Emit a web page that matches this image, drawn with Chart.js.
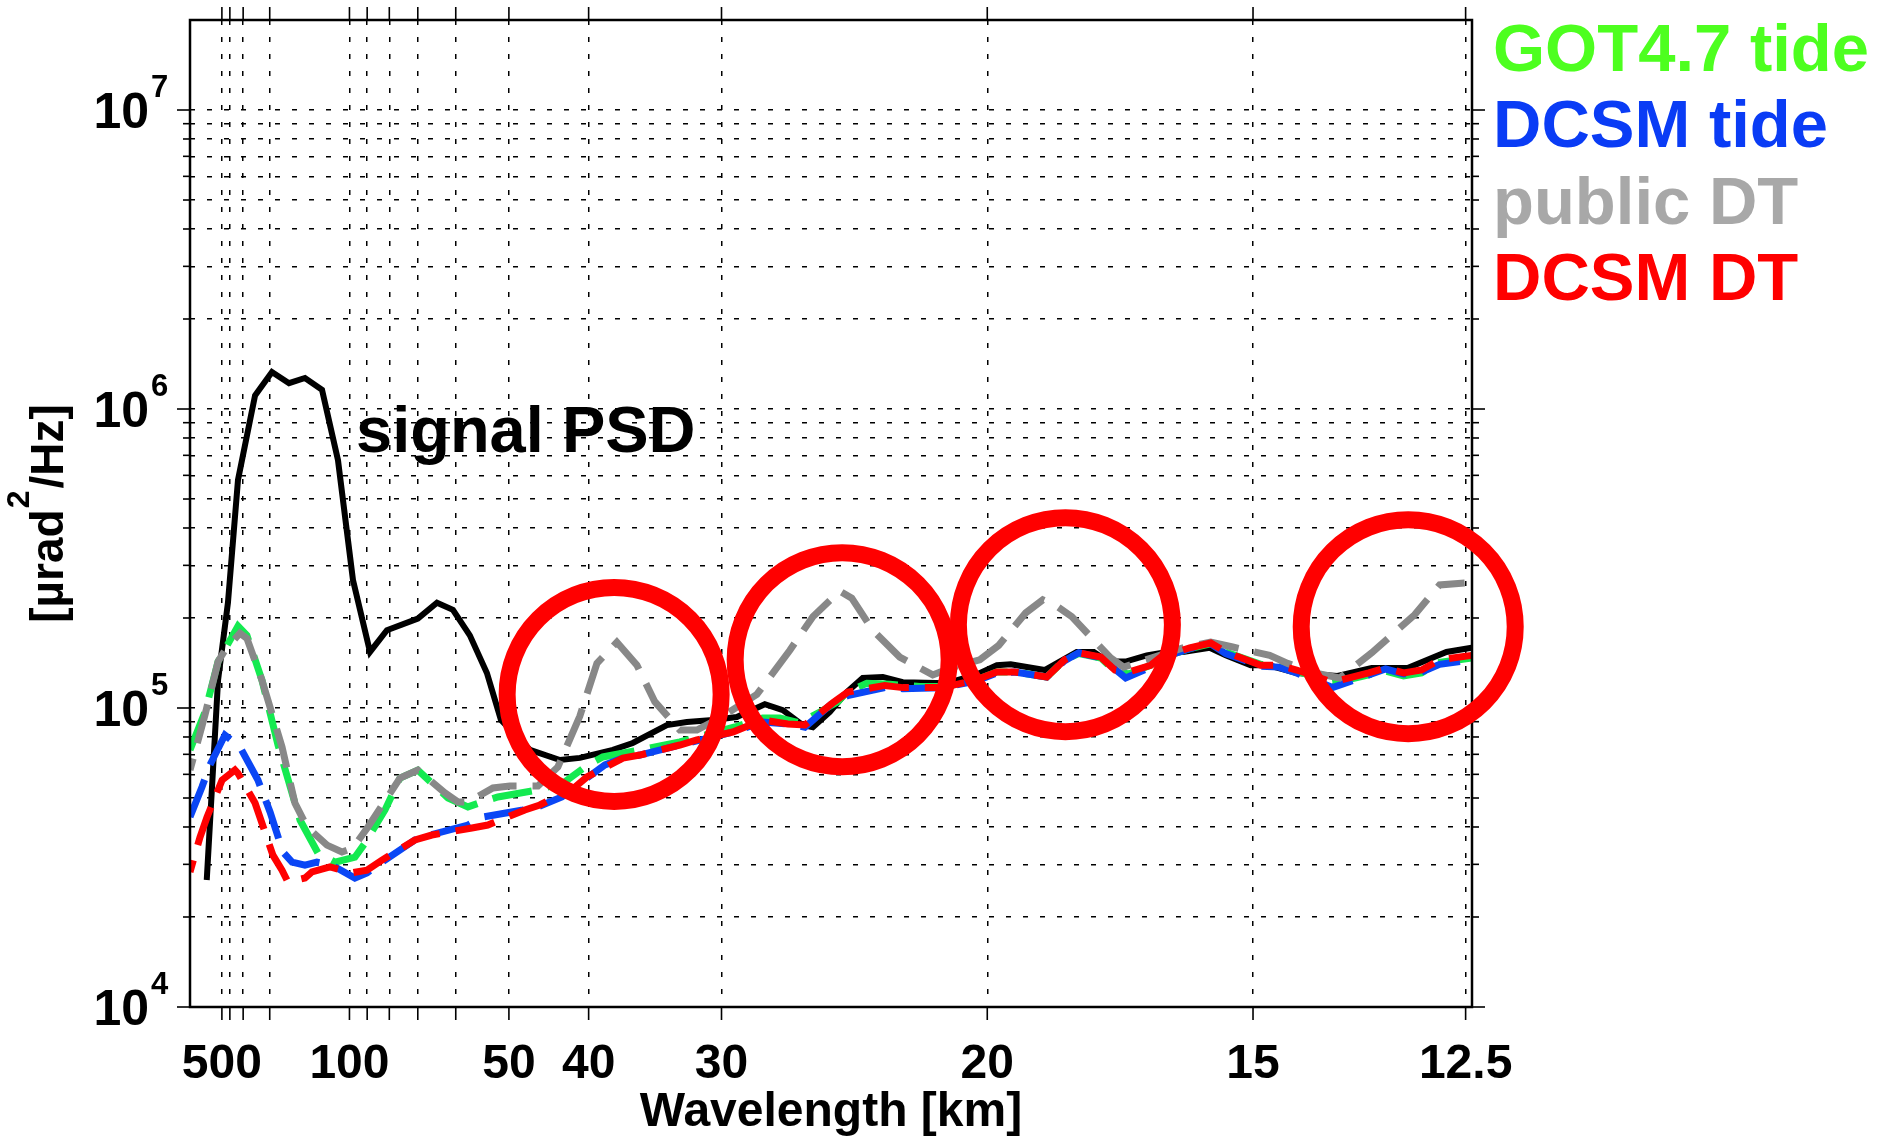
<!DOCTYPE html>
<html>
<head>
<meta charset="utf-8">
<title>Along-track PSD</title>
<script src="https://cdn.jsdelivr.net/npm/chart.js@4.4.0/dist/chart.umd.min.js"></script>
<style>
  html, body { margin: 0; padding: 0; background: #ffffff; }
  canvas { display: block; }
</style>
</head>
<body>
<canvas id="psdChart" width="1894" height="1139"></canvas>
<script>
// x values are wavenumbers (cycles/km), y values are PSD in urad^2/Hz

const signalK = [0.00105, 0.00176, 0.00238, 0.00301, 0.00408, 0.00514, 0.00621, 0.00721, 0.00828, 0.00928,
    0.01022, 0.01129, 0.01235, 0.01429, 0.01549, 0.01649, 0.01755, 0.01862, 0.0195, 0.02132,
    0.0232, 0.02445, 0.02652, 0.02777, 0.02991, 0.03116, 0.03279, 0.03429, 0.03605, 0.03718,
    0.03843, 0.03906, 0.04013, 0.04119, 0.04219, 0.04345, 0.0447, 0.04746, 0.04928, 0.0506,
    0.05147, 0.0536, 0.05561, 0.05668, 0.05756, 0.05868, 0.06, 0.061, 0.06226, 0.06395,
    0.06495, 0.06652, 0.06765, 0.0694, 0.07197, 0.07411, 0.07636, 0.0788, 0.08038];
const signalPSD = [2.66e4, 1.24e5, 2.25e5, 5.79e5, 1.11e6, 1.33e6, 1.22e6, 1.27e6, 1.16e6, 6.75e5,
    2.68e5, 1.54e5, 1.82e5, 1.99e5, 2.25e5, 2.13e5, 1.75e5, 1.31e5, 9.12e4, 7.24e4,
    6.70e4, 6.81e4, 7.24e4, 7.64e4, 8.77e4, 8.98e4, 9.12e4, 9.33e4, 1.03e5, 9.84e4,
    8.77e4, 8.63e4, 9.70e4, 1.13e5, 1.26e5, 1.27e5, 1.22e5, 1.21e5, 1.29e5, 1.39e5,
    1.40e5, 1.34e5, 1.54e5, 1.54e5, 1.43e5, 1.43e5, 1.50e5, 1.53e5, 1.54e5, 1.59e5,
    1.50e5, 1.39e5, 1.39e5, 1.31e5, 1.28e5, 1.36e5, 1.36e5, 1.54e5, 1.59e5];

const got47K = [0, 0.00094, 0.00176, 0.00301, 0.00357, 0.00451, 0.00552, 0.00658, 0.0069, 0.00803,
    0.00909, 0.01034, 0.01097, 0.01223, 0.01317, 0.01429, 0.01618, 0.01743, 0.01831, 0.01931,
    0.02182, 0.02351, 0.02495, 0.02589, 0.02821, 0.03072, 0.03279, 0.03417, 0.03592, 0.03699,
    0.03824, 0.0395, 0.04063, 0.04119, 0.04245, 0.04389, 0.04577, 0.04746, 0.04928, 0.0506,
    0.05172, 0.05373, 0.05486, 0.05574, 0.05712, 0.058, 0.05887, 0.06025, 0.06088, 0.0627,
    0.06401, 0.06495, 0.06715, 0.06828, 0.0694, 0.07166, 0.07392, 0.07498, 0.07611, 0.07724,
    0.07837, 0.08038];
const got47Tide = [7.24e4, 9.70e4, 1.43e5, 1.88e5, 1.75e5, 1.24e5, 7.52e4, 4.81e4, 4.22e4, 3.27e4,
    3.05e4, 3.17e4, 3.53e4, 4.56e4, 5.83e4, 6.20e4, 5.00e4, 4.67e4, 4.85e4, 5.04e4,
    5.32e4, 5.66e4, 6.45e4, 6.86e4, 7.24e4, 7.70e4, 8.25e4, 8.64e4, 9.26e4, 9.26e4,
    8.91e4, 9.70e4, 1.05e5, 1.13e5, 1.21e5, 1.20e5, 1.18e5, 1.18e5, 1.24e5, 1.32e5,
    1.32e5, 1.27e5, 1.45e5, 1.52e5, 1.47e5, 1.33e5, 1.30e5, 1.39e5, 1.47e5, 1.58e5,
    1.64e5, 1.54e5, 1.40e5, 1.38e5, 1.33e5, 1.21e5, 1.29e5, 1.33e5, 1.28e5, 1.31e5,
    1.42e5, 1.47e5];

const dcsmTideK = [0, 0.00075, 0.00125, 0.00219, 0.00313, 0.00426, 0.00502, 0.00583, 0.0064, 0.00721,
    0.00796, 0.0089, 0.01034, 0.0111, 0.01204, 0.01411, 0.01505, 0.01743, 0.01837, 0.02088,
    0.02182, 0.02332, 0.02489, 0.02602, 0.02715, 0.02821, 0.03072, 0.03179, 0.03404, 0.03592,
    0.03749, 0.03856, 0.04031, 0.04125, 0.04357, 0.0447, 0.04721, 0.04928, 0.0506, 0.05172,
    0.05373, 0.05486, 0.05574, 0.05712, 0.058, 0.05868, 0.06025, 0.06088, 0.0627, 0.06401,
    0.06495, 0.06715, 0.06828, 0.0694, 0.07166, 0.07392, 0.07498, 0.07611, 0.07724, 0.07837,
    0.08038];
const dcsmTide = [4.32e4, 5.44e4, 6.45e4, 8.12e4, 7.41e4, 5.74e4, 4.49e4, 3.30e4, 3.05e4, 2.98e4,
    3.05e4, 2.98e4, 2.70e4, 2.81e4, 3.05e4, 3.62e4, 3.76e4, 4.06e4, 4.32e4, 4.56e4,
    4.67e4, 5.04e4, 5.83e4, 6.45e4, 6.80e4, 6.96e4, 7.52e4, 7.76e4, 8.31e4, 8.98e4,
    8.84e4, 8.63e4, 1.04e5, 1.10e5, 1.17e5, 1.16e5, 1.17e5, 1.23e5, 1.31e5, 1.32e5,
    1.27e5, 1.44e5, 1.53e5, 1.47e5, 1.35e5, 1.26e5, 1.37e5, 1.47e5, 1.58e5, 1.64e5,
    1.52e5, 1.38e5, 1.37e5, 1.31e5, 1.17e5, 1.29e5, 1.35e5, 1.30e5, 1.32e5, 1.40e5,
    1.45e5];

const publicK = [0, 0.00094, 0.00176, 0.00219, 0.00313, 0.00357, 0.00451, 0.00577, 0.00658, 0.00734,
    0.00859, 0.00953, 0.01022, 0.01116, 0.01317, 0.01429, 0.01599, 0.0168, 0.01743, 0.019,
    0.02006, 0.02182, 0.02307, 0.02445, 0.02552, 0.02677, 0.02803, 0.02915, 0.03072, 0.03179,
    0.03323, 0.03555, 0.03762, 0.03906, 0.04075, 0.0415, 0.04282, 0.04451, 0.04658, 0.04784,
    0.04953, 0.05072, 0.05241, 0.05348, 0.05442, 0.0553, 0.05774, 0.05856, 0.06082, 0.06245,
    0.06401, 0.06539, 0.06771, 0.06884, 0.07053, 0.0721, 0.07411, 0.0768, 0.07837, 0.07994];
const publicDT = [6.20e4, 9.48e4, 1.43e5, 1.56e5, 1.78e5, 1.71e5, 1.24e5, 7.41e4, 4.81e4, 4.00e4,
    3.48e4, 3.30e4, 3.40e4, 4.00e4, 5.83e4, 6.20e4, 5.20e4, 4.85e4, 4.85e4, 5.40e4,
    5.48e4, 5.48e4, 6.35e4, 9.40e4, 1.41e5, 1.66e5, 1.39e5, 1.05e5, 8.44e4, 8.44e4,
    9.26e4, 1.11e5, 1.56e5, 2.02e5, 2.46e5, 2.33e5, 1.82e5, 1.48e5, 1.29e5, 1.37e5,
    1.45e5, 1.62e5, 2.08e5, 2.30e5, 2.18e5, 2.02e5, 1.47e5, 1.37e5, 1.50e5, 1.60e5,
    1.66e5, 1.60e5, 1.50e5, 1.41e5, 1.31e5, 1.26e5, 1.53e5, 2.05e5, 2.58e5, 2.62e5];

const dcsmDtK = [0, 0.00063, 0.00107, 0.00201, 0.00282, 0.00301, 0.00408, 0.0052, 0.00577, 0.00614,
    0.00721, 0.00765, 0.00878, 0.01016, 0.0111, 0.01204, 0.01411, 0.01517, 0.01768, 0.01868,
    0.021, 0.02194, 0.02414, 0.02489, 0.02715, 0.02821, 0.03072, 0.03179, 0.03404, 0.03592,
    0.03749, 0.03856, 0.04031, 0.04125, 0.04357, 0.0447, 0.04721, 0.04928, 0.0506, 0.05172,
    0.05373, 0.05486, 0.05574, 0.05712, 0.058, 0.05887, 0.06025, 0.06088, 0.0627, 0.06401,
    0.06495, 0.06715, 0.06828, 0.0694, 0.07166, 0.07392, 0.07498, 0.07611, 0.07724, 0.07837,
    0.08038];
const dcsmDT = [2.83e4, 3.70e4, 4.32e4, 5.74e4, 6.20e4, 6.05e4, 4.81e4, 3.22e4, 2.87e4, 2.62e4,
    2.70e4, 2.83e4, 2.94e4, 2.81e4, 2.87e4, 3.10e4, 3.62e4, 3.76e4, 3.97e4, 4.06e4,
    4.56e4, 4.74e4, 5.44e4, 5.88e4, 6.80e4, 6.96e4, 7.52e4, 7.82e4, 8.31e4, 9.12e4,
    8.84e4, 8.77e4, 1.04e5, 1.13e5, 1.19e5, 1.17e5, 1.17e5, 1.24e5, 1.32e5, 1.32e5,
    1.27e5, 1.45e5, 1.53e5, 1.48e5, 1.34e5, 1.32e5, 1.39e5, 1.48e5, 1.59e5, 1.65e5,
    1.54e5, 1.39e5, 1.39e5, 1.34e5, 1.22e5, 1.31e5, 1.36e5, 1.31e5, 1.34e5, 1.45e5,
    1.50e5];

// axis ticks
const gridWavelengths = [500, 400, 300, 200, 100, 90, 80, 70, 60, 50, 40, 30, 20, 15, 12.5];
const labelWavelengths = [500, 100, 50, 40, 30, 20, 15, 12.5];
const decades = [1e4, 1e5, 1e6, 1e7];
const decadeExponents = ['4', '5', '6', '7'];

// highlighted regions (circle centres)
const circleK = [0.0266, 0.0409, 0.0549, 0.0764];
const circlePSD = [1.11e5, 1.45e5, 1.90e5, 1.87e5];

const legendNames = ['GOT4.7 tide', 'DCSM tide', 'public DT', 'DCSM DT'];
const legendColors = ['#4dff1f', '#0a3cf5', '#a8a8a8', '#ff0000'];

const FONT = '"Liberation Sans", Arial, Helvetica, sans-serif';

function toPoints(ks, vals) {
    return ks.map((k, i) => ({ x: k, y: vals[i] }));
}

// 1..9 x 10^n grid values for the log axis
const yGridValues = [];
for (let d = 0; d < decades.length - 1; d++) {
    for (let m = 1; m <= 9; m++) {
        yGridValues.push(m * decades[d]);
    }
}
yGridValues.push(decades[decades.length - 1]);

function line(ctx, x1, y1, x2, y2) {
    ctx.beginPath();
    ctx.moveTo(x1, y1);
    ctx.lineTo(x2, y2);
    ctx.stroke();
}

const decorations = {
    id: 'decorations',
    afterDatasetsDraw(chart) {
        const { ctx, chartArea, scales } = chart;
        const { left, right, top, bottom } = chartArea;
        const x = scales.x;
        const y = scales.y;

        ctx.save();
        ctx.strokeStyle = '#000';
        ctx.lineWidth = 2.5;
        ctx.setLineDash([]);
        ctx.strokeRect(left, top, right - left, bottom - top);

        ctx.lineWidth = 1.6;
        gridWavelengths.forEach(w => {
            const px = x.getPixelForValue(1 / w);
            line(ctx, px, top, px, top - 13);
            line(ctx, px, bottom, px, bottom + 13);
        });
        yGridValues.forEach(v => {
            const py = y.getPixelForValue(v);
            const len = decades.includes(v) ? 13 : 7;
            line(ctx, left - len, py, left, py);
            line(ctx, right, py, right + len, py);
        });

        // red circles
        ctx.strokeStyle = '#ff0000';
        ctx.lineWidth = 17;
        circleK.forEach((k, i) => {
            ctx.beginPath();
            ctx.arc(x.getPixelForValue(k), y.getPixelForValue(circlePSD[i]), 107, 0, Math.PI * 2);
            ctx.stroke();
        });
        ctx.restore();
    },
    afterDraw(chart) {
        const { ctx, chartArea, scales } = chart;
        const y = scales.y;
        ctx.save();
        ctx.fillStyle = '#000';
        ctx.textBaseline = 'alphabetic';

        // y tick labels 10^n
        decades.forEach((v, i) => {
            const py = y.getPixelForValue(v);
            ctx.font = 'bold 50px ' + FONT;
            ctx.textAlign = 'right';
            ctx.fillText('10', 149, py + 18);
            ctx.font = 'bold 31px ' + FONT;
            ctx.textAlign = 'left';
            ctx.fillText(decadeExponents[i], 151, py - 13);
        });

        // x axis title
        ctx.font = 'bold 48px ' + FONT;
        ctx.textAlign = 'center';
        ctx.fillText('Wavelength [km]', (chartArea.left + chartArea.right) / 2, 1126);

        // y axis title with superscript
        ctx.save();
        ctx.translate(63, (chartArea.top + chartArea.bottom) / 2);
        ctx.rotate(-Math.PI / 2);
        ctx.textAlign = 'left';
        const mainFont = 'bold 46px ' + FONT;
        const supFont = 'bold 32px ' + FONT;
        ctx.font = mainFont;
        const wa = ctx.measureText('[\u00b5rad').width;
        const wb = ctx.measureText('/Hz]').width;
        ctx.font = supFont;
        const ws = ctx.measureText('2').width + 3;
        let cx = -(wa + ws + wb) / 2;
        ctx.font = mainFont;
        ctx.fillText('[\u00b5rad', cx, 0);
        cx += wa;
        ctx.font = supFont;
        ctx.fillText('2', cx + 1, -34);
        cx += ws;
        ctx.font = mainFont;
        ctx.fillText('/Hz]', cx, 0);
        ctx.restore();

        // annotation
        ctx.font = 'bold 65px ' + FONT;
        ctx.textAlign = 'left';
        ctx.fillStyle = '#000';
        ctx.fillText('signal PSD', 356, 452);

        // legend text
        ctx.font = 'bold 67px ' + FONT;
        legendNames.forEach((name, i) => {
            ctx.fillStyle = legendColors[i];
            ctx.fillText(name, 1493, 71 + i * 76.3);
        });
        ctx.restore();
    }
};

const ctx = document.getElementById('psdChart').getContext('2d');

new Chart(ctx, {
    type: 'line',
    data: {
        datasets: [
            {
                label: 'signal PSD',
                data: toPoints(signalK, signalPSD),
                borderColor: '#000000',
                borderWidth: 6,
                order: 5
            },
            {
                label: 'GOT4.7 tide',
                data: toPoints(got47K, got47Tide),
                borderColor: '#14ea50',
                borderWidth: 7,
                borderDash: [40, 16],
                borderDashOffset: 0,
                order: 4
            },
            {
                label: 'DCSM tide',
                data: toPoints(dcsmTideK, dcsmTide),
                borderColor: '#0a46f5',
                borderWidth: 7,
                borderDash: [40, 16],
                borderDashOffset: 0,
                order: 3
            },
            {
                label: 'public DT',
                data: toPoints(publicK, publicDT),
                borderColor: '#888888',
                borderWidth: 7,
                borderDash: [40, 16],
                borderDashOffset: 28,
                order: 2
            },
            {
                label: 'DCSM DT',
                data: toPoints(dcsmDtK, dcsmDT),
                borderColor: '#ff0000',
                borderWidth: 7,
                borderDash: [40, 16],
                borderDashOffset: 28,
                order: 1
            }
        ]
    },
    options: {
        responsive: false,
        devicePixelRatio: 1,
        animation: false,
        layout: {
            padding: { top: 20, right: 422, bottom: 0, left: 0 }
        },
        elements: {
            point: { radius: 0, hoverRadius: 0 },
            line: { tension: 0, fill: false, borderCapStyle: 'butt', borderJoinStyle: 'miter' }
        },
        plugins: {
            legend: { display: false },
            tooltip: { enabled: false }
        },
        scales: {
            x: {
                type: 'linear',
                position: 'bottom',
                min: 0,
                max: 0.0804,
                afterBuildTicks: (scale) => {
                    scale.ticks = gridWavelengths.map(w => ({ value: 1 / w }));
                },
                afterFit: (scale) => {
                    scale.height = 132;
                },
                ticks: {
                    autoSkip: false,
                    maxRotation: 0,
                    minRotation: 0,
                    padding: 29,
                    color: '#000',
                    font: { family: FONT, weight: 'bold', size: 48 },
                    callback: (value) => {
                        const w = 1 / value;
                        const lab = labelWavelengths.find(l => Math.abs(l - w) < 1e-6);
                        return lab === undefined ? '' : String(lab);
                    }
                },
                grid: {
                    color: '#000',
                    lineWidth: 1.5,
                    drawTicks: false
                },
                border: {
                    display: false,
                    dash: [5, 12]
                }
            },
            y: {
                type: 'logarithmic',
                position: 'left',
                min: 1e4,
                max: 2e7,
                afterBuildTicks: (scale) => {
                    scale.ticks = yGridValues.map(v => ({ value: v }));
                },
                afterFit: (scale) => {
                    scale.width = 190;
                },
                ticks: {
                    display: false
                },
                grid: {
                    color: '#000',
                    lineWidth: 1.5,
                    drawTicks: false
                },
                border: {
                    display: false,
                    dash: [5, 12]
                }
            }
        }
    },
    plugins: [decorations]
});
</script>
</body>
</html>
